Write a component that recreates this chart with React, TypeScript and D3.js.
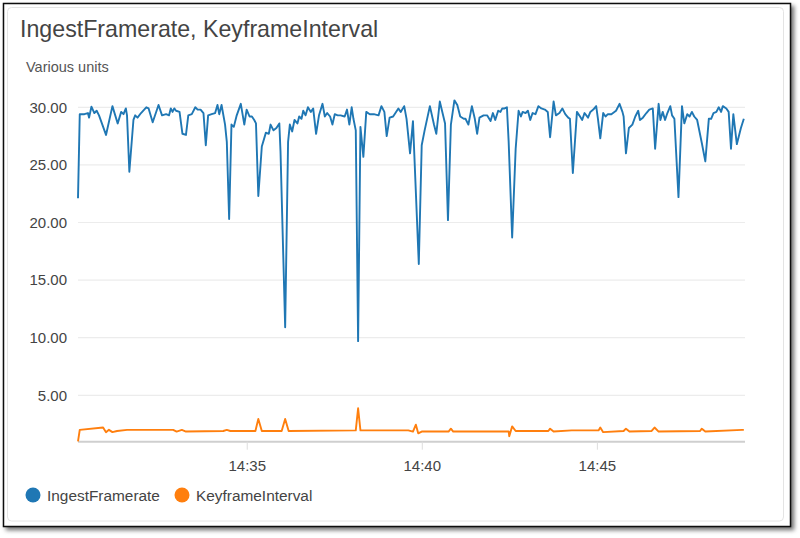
import React from 'react';
import * as d3 from 'd3';

// seconds after 14:30:00
const framerateTimes = [10,13,21,27,29,33,38,42,46,58,69,78,84,88,92,94,98,105,108,112,118,127,131,138,148,154,161,166,169,172,175,178,184,189,195,199,205,211,215,220,225,229,233,239,245,249,252,256,262,265,269,273,277,282,289,295,299,304,308,312,315,319,325,332,337,340,345,350,355,357,365,370,373,377,381,386,389,393,396,400,404,409,413,418,423,429,433,437,442,446,450,455,460,467,471,475,479,482,486,490,494,499,504,510,517,525,530,535,539,544,550,559,563,569,573,579,584,594,599,604,613,620,624,630,639,644,649,655,660,665,671,674,679,685,690,694,698,705,711,717,721,725,730,734,737,741,745,748,754,760,765,769,772,777,781,785,789,794,799,804,810,815,819,825,829,835,840,845,850,853,858,865,869,874,878,884,888,893,898,901,905,910,914,918,924,932,938,943,945,949,954,960,965,970,973,978,984,989,995,999,1005,1008,1012,1016,1020,1025,1028,1032,1039,1045,1049,1054,1058,1062,1066,1071,1079,1085,1091,1095,1099,1104,1108,1112,1115,1121,1125,1129,1133,1139,1146,1151];
const framerateValues = [22.1,29.4,29.4,29.5,29.1,30.05,29.5,29.7,29.3,27.6,30.1,28.6,29.6,29.4,29.9,29.3,24.4,28.9,29.3,29.1,29.5,30.0,29.9,28.7,30.2,29.3,29.4,29.3,29.9,29.6,29.9,29.7,29.6,27.7,27.6,29.3,29.4,30.0,29.8,29.8,29.5,26.7,29.3,29.4,29.5,30.2,29.4,30.2,28.5,27.0,20.3,28.5,28.3,29.3,30.3,28.5,29.8,29.2,29.2,28.9,28.6,22.3,26.6,27.8,27.7,28.5,28.0,28.2,28.6,26.2,10.9,27.0,28.5,27.9,28.9,28.6,29.2,29.0,29.7,29.3,30.0,29.6,29.9,27.7,29.3,30.3,29.2,29.5,29.2,28.5,29.4,29.3,29.3,29.2,29.8,28.5,30.0,29.0,28.0,9.7,28.3,25.7,29.6,29.4,29.4,29.3,30.1,29.6,27.5,29.1,29.2,29.9,29.6,30.1,29.0,26.0,28.8,16.4,26.7,28.0,30.1,28.5,27.7,30.5,28.6,20.2,28.5,30.6,30.2,29.2,29.0,29.0,28.5,30.1,29.0,27.7,29.1,29.3,29.3,28.8,29.5,28.9,29.7,29.6,29.9,29.9,30.0,27.0,18.7,26.4,29.7,29.2,29.6,29.5,29.7,28.9,29.5,29.4,30.1,29.9,29.8,29.6,27.4,30.5,29.3,29.5,29.9,29.4,29.1,29.0,24.3,29.6,29.3,28.9,29.5,29.1,29.6,29.8,30.1,29.0,27.3,29.5,29.2,29.4,29.4,29.7,30.3,29.6,29.2,26.0,28.2,28.5,29.2,29.7,28.9,29.1,29.5,29.8,29.9,26.4,30.3,28.9,29.6,28.9,29.5,30.1,29.3,29.0,22.2,30.1,28.6,29.4,29.2,29.6,29.2,28.9,26.9,25.3,29.0,29.0,29.5,29.6,30.0,29.6,30.1,29.9,29.6,26.4,29.4,26.8,28.2,29.0];

const keyframeTimes = [10,13,53,58,63,69,77,94,173,179,188,195,259,265,271,314,319,325,359,365,371,486,490,494,576,584,589,593,599,645,649,653,748,749,754,760,816,819,825,856,902,905,910,945,949,955,993,998,1005,1076,1079,1085,1148,1151];
const keyframeValues = [1.0,2.0,2.2,1.8,2.0,1.8,1.9,2.0,2.0,1.85,2.0,1.85,1.9,2.0,1.9,1.9,2.95,1.9,1.9,2.95,1.9,1.95,3.87,1.95,1.95,1.85,2.45,1.7,1.85,1.85,2.1,1.85,1.87,1.45,2.3,1.9,1.9,2.1,1.85,1.95,1.95,2.2,1.8,1.9,2.1,1.85,1.9,2.2,1.85,1.9,2.1,1.85,2.0,2.0];

const seriesNames = ['IngestFramerate', 'KeyframeInterval'];
const seriesColors = ['#1f77b4', '#ff7f0e'];
const yTickValues = [5, 10, 15, 20, 25, 30];
const titleText = 'IngestFramerate, KeyframeInterval';
const unitText = 'Various units';

const base = new Date(2020, 0, 1, 14, 30, 0).getTime();
const toDate = (s: number) => new Date(base + s * 1000);

export default function App() {
  const W = 800, H = 538;
  const left = 78, right = 745, top = 90, bottom = 441.7;
  const x = d3.scaleTime().domain([toDate(10), toDate(1153)]).range([left, right]);
  const y = d3.scaleLinear().domain([0.97, 31.5]).range([bottom, top]);
  const line = d3.line<[number, number]>().x(d => x(toDate(d[0]))).y(d => y(d[1]));
  const s1 = framerateTimes.map((t, i) => [t, framerateValues[i]] as [number, number]);
  const s2 = keyframeTimes.map((t, i) => [t, keyframeValues[i]] as [number, number]);
  const xt = x.ticks(d3.timeMinute.every(5) as any);
  const fmt = d3.timeFormat('%H:%M');
  const font = '"Liberation Sans", Arial, sans-serif';
  const series = [s1, s2];
  const legendX = [33, 182];
  return (
    <svg width={W} height={H} style={{ position: 'absolute', left: 0, top: 0 }} fontFamily={font}>
      <defs>
        <filter id="sh" x="-5%" y="-5%" width="110%" height="110%">
          <feDropShadow dx="3" dy="3" stdDeviation="2" floodColor="#000" floodOpacity="0.55" />
        </filter>
      </defs>
      <rect x={0} y={0} width={W} height={H} fill="#fff" />
      <rect x={3.5} y={3.5} width={787} height={523} fill="#fff" stroke="#111" strokeWidth={1.5} filter="url(#sh)" />
      <rect x={7.5} y={7.5} width={776} height={513.5} rx={4} fill="#fff" stroke="#e4e4e4" />
      <text x={20} y={37} fontSize={23.2} fill="#444">{titleText}</text>
      <text x={26} y={72} fontSize={14.5} fill="#555">{unitText}</text>
      {yTickValues.map(v => (
        <g key={v}>
          <line x1={left} x2={right} y1={y(v)} y2={y(v)} stroke="#ececec" strokeWidth={1.2} />
          <text x={67} y={y(v)} dy="0.35em" textAnchor="end" fontSize={15} fill="#444">{v.toFixed(2)}</text>
        </g>
      ))}
      <line x1={left} x2={right} y1={bottom} y2={bottom} stroke="#cfcfcf" strokeWidth={2} />
      {xt.map((d, i) => (
        <g key={i}>
          <line x1={x(d)} x2={x(d)} y1={bottom} y2={bottom + 8} stroke="#ddd" strokeWidth={1} />
          <text x={x(d)} y={471} textAnchor="middle" fontSize={15} fill="#444">{fmt(d)}</text>
        </g>
      ))}
      {series.map((s, i) => (
        <path key={i} d={line(s) || ''} fill="none" stroke={seriesColors[i]} strokeWidth={1.9} strokeLinejoin="round" />
      ))}
      {seriesNames.map((n, i) => (
        <g key={n}>
          <circle cx={legendX[i]} cy={495} r={7.5} fill={seriesColors[i]} />
          <text x={legendX[i] + 14} y={500.5} fontSize={15.4} fill="#444">{n}</text>
        </g>
      ))}
    </svg>
  );
}
